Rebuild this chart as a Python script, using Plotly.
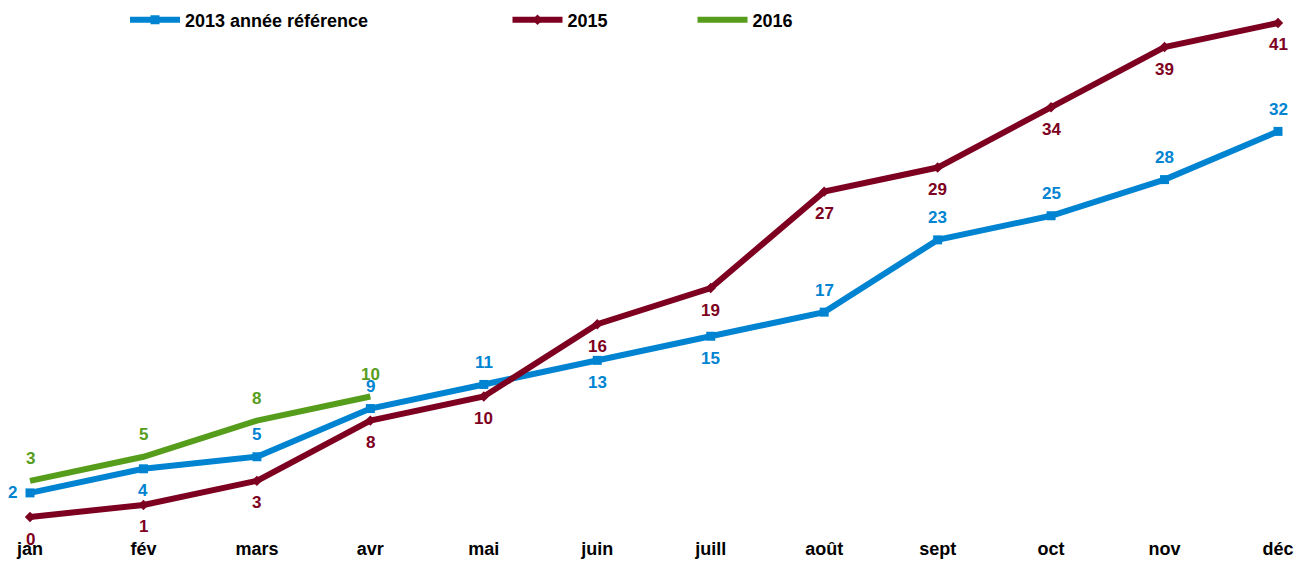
import plotly.graph_objects as go

months = ["jan", "fév", "mars", "avr", "mai", "juin", "juill", "août", "sept", "oct", "nov", "déc"]
s2013 = [2, 4, 5, 9, 11, 13, 15, 17, 23, 25, 28, 32]
s2015 = [0, 1, 3, 8, 10, 16, 19, 27, 29, 34, 39, 41]
s2016 = [3, 5, 8, 10]

pos2013 = ["left", "below", "above", "above", "above", "below", "below", "above", "above", "above", "above", "above"]
pos2015 = ["below"] * 12
pos2016 = ["above"] * 4

C13 = "#0084d1"
C15 = "#7e0021"
C16 = "#579d1c"
FONT = "Liberation Sans, Arial, sans-serif"

W, H = 1303, 555
PLOT_H = 522
ZERO_Y = 509
STEP = 113.45
UNIT = 12.05

x = list(range(12))
fig = go.Figure()
fig.add_trace(go.Scatter(x=x, y=s2013, mode="lines+markers", name="2013 année référence",
                         line=dict(color=C13, width=6), marker=dict(symbol="square", size=9, color=C13),
                         legend="legend", showlegend=True))
fig.add_trace(go.Scatter(x=x, y=s2015, mode="lines+markers", name="2015",
                         line=dict(color=C15, width=6), marker=dict(symbol="diamond", size=8, color=C15),
                         legend="legend2", showlegend=True))
fig.add_trace(go.Scatter(x=x[:len(s2016)], y=s2016, mode="lines", name="2016",
                         line=dict(color=C16, width=6), legend="legend3", showlegend=True))

ann = []
for vals, poss, col in [(s2013, pos2013, C13), (s2015, pos2015, C15), (s2016, pos2016, C16)]:
    for i, (v, p) in enumerate(zip(vals, poss)):
        xs, ys = 0, 0
        if p == "above":
            ys = 22
        elif p == "below":
            ys = -22
        else:
            xs = -18
        ann.append(dict(x=i, y=v, text=str(v), showarrow=False, xshift=xs, yshift=ys,
                        font=dict(family=FONT, size=17, color=col, weight="bold")))
fig.update_layout(annotations=ann)

leg_common = dict(orientation="h", yanchor="middle", y=1 - 12 / PLOT_H, xanchor="left",
                  bgcolor="rgba(0,0,0,0)", borderwidth=0, itemwidth=50,
                  font=dict(family=FONT, size=18, color="#000000", weight="bold"))
fig.update_layout(
    legend=dict(x=117 / W, **leg_common),
    legend2=dict(x=499.5 / W, **leg_common),
    legend3=dict(x=684.5 / W, **leg_common),
)

fig.update_layout(
    width=W, height=H,
    margin=dict(l=0, r=0, t=0, b=H - PLOT_H, autoexpand=False),
    plot_bgcolor="white", paper_bgcolor="white",
    xaxis=dict(range=[-22 / STEP, 11 + 33 / STEP], tickmode="array", tickvals=x, ticktext=months,
               showgrid=False, zeroline=False, showline=False, ticks="", automargin=False,
               ticklabelstandoff=6,
               tickfont=dict(family=FONT, size=18, color="#000000", weight="bold")),
    yaxis=dict(range=[-(PLOT_H - ZERO_Y) / UNIT, ZERO_Y / UNIT], showgrid=False, zeroline=False,
               showline=False, showticklabels=False, ticks="", automargin=False),
)

fig.write_html("out.html")
